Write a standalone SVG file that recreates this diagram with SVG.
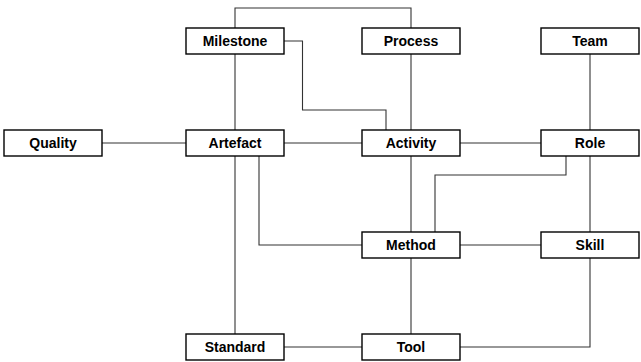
<svg xmlns="http://www.w3.org/2000/svg" width="641" height="362" viewBox="0 0 641 362">
<style>
.box rect{fill:#fff;stroke:#000;stroke-width:1.4}
.box text{font-family:"Liberation Sans",Arial,sans-serif;font-weight:bold;font-size:14px;text-anchor:middle;fill:#000}
#connectors path{fill:none;stroke:#333;stroke-width:1.1}
</style>
<rect width="641" height="362" fill="#fff"/>
<g id="connectors">
<path d="M235,28 V8 H411 V28"/>
<path d="M284,41 H302.5 V110 H386 V130"/>
<path d="M235,54 V130"/>
<path d="M411,54 V130"/>
<path d="M590,54 V130"/>
<path d="M102,143 H186"/>
<path d="M284,143 H362"/>
<path d="M460,143 H541"/>
<path d="M235,156 V334"/>
<path d="M259,156 V245 H362"/>
<path d="M411,156 V232"/>
<path d="M435,232 V175 H566 V156"/>
<path d="M590,156 V232"/>
<path d="M460,245 H541"/>
<path d="M411,258 V334"/>
<path d="M590,258 V347 H460"/>
<path d="M284,347 H362"/>
</g>
<g id="milestone" class="box"><rect x="186" y="28" width="98" height="26"/><text x="235" y="46">Milestone</text></g>
<g id="process" class="box"><rect x="362" y="28" width="98" height="26"/><text x="411" y="46">Process</text></g>
<g id="team" class="box"><rect x="541" y="28" width="98" height="26"/><text x="590" y="46">Team</text></g>
<g id="quality" class="box"><rect x="4" y="130" width="98" height="26"/><text x="53" y="148">Quality</text></g>
<g id="artefact" class="box"><rect x="186" y="130" width="98" height="26"/><text x="235" y="148">Artefact</text></g>
<g id="activity" class="box"><rect x="362" y="130" width="98" height="26"/><text x="411" y="148">Activity</text></g>
<g id="role" class="box"><rect x="541" y="130" width="98" height="26"/><text x="590" y="148">Role</text></g>
<g id="method" class="box"><rect x="362" y="232" width="98" height="26"/><text x="411" y="250">Method</text></g>
<g id="skill" class="box"><rect x="541" y="232" width="98" height="26"/><text x="590" y="250">Skill</text></g>
<g id="standard" class="box"><rect x="186" y="334" width="98" height="26"/><text x="235" y="352">Standard</text></g>
<g id="tool" class="box"><rect x="362" y="334" width="98" height="26"/><text x="411" y="352">Tool</text></g>
</svg>
